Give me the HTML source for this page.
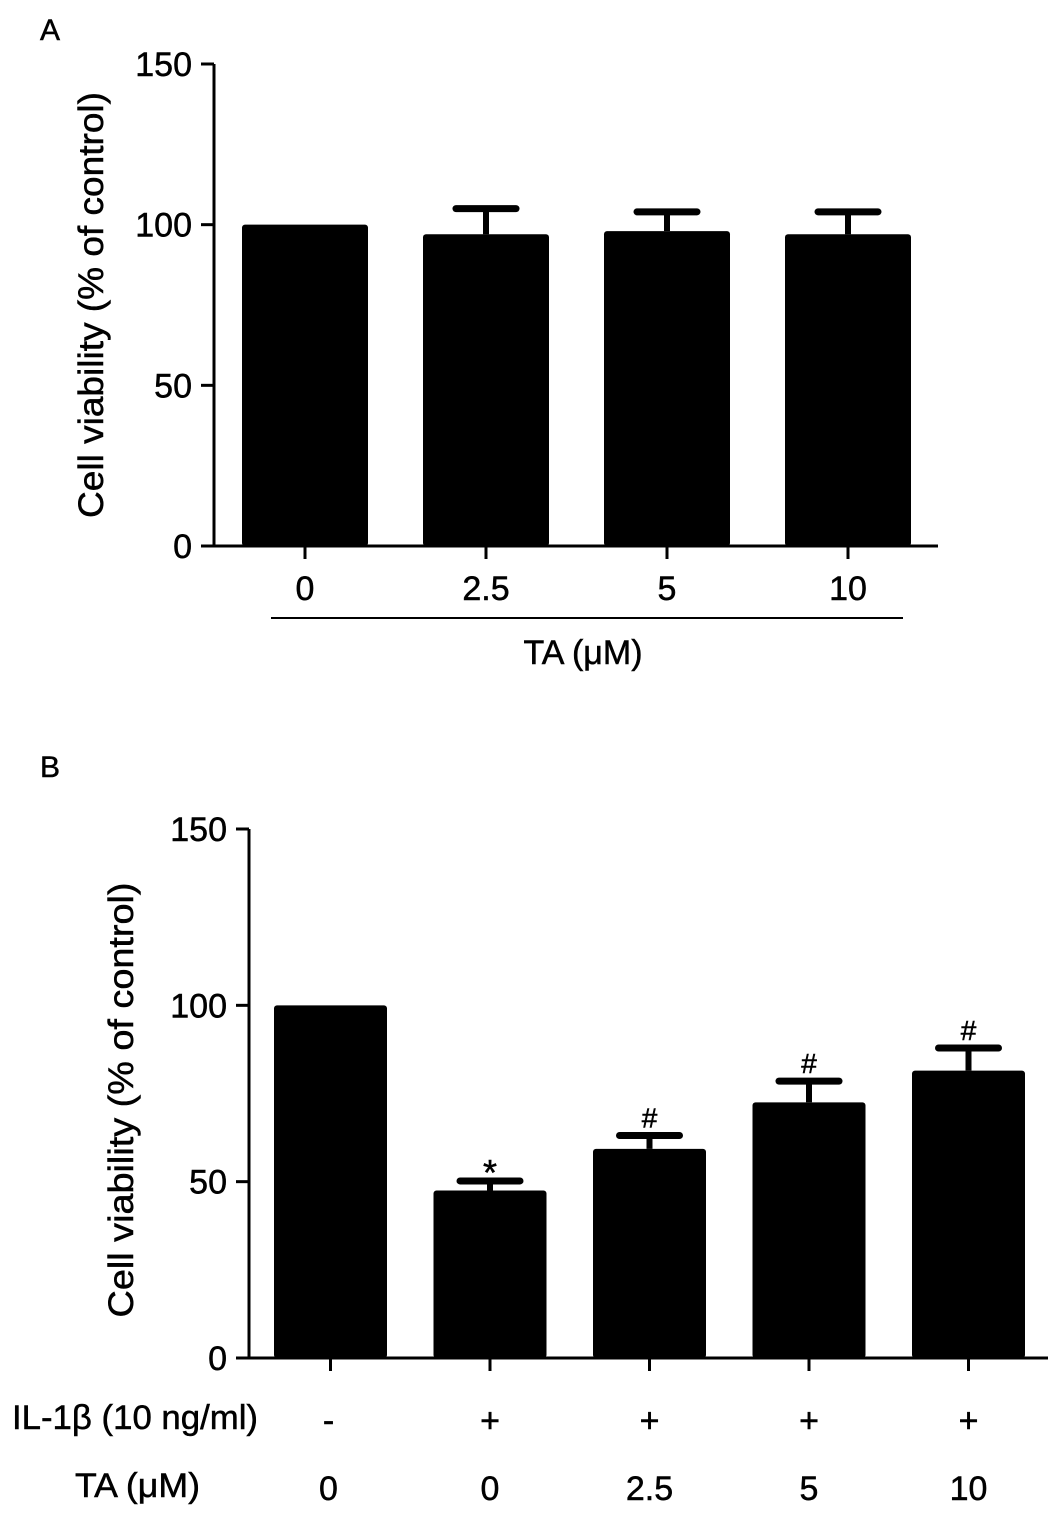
<!DOCTYPE html>
<html><head><meta charset="utf-8"><style>
body{margin:0;background:#fff}
svg text{font-family:"Liberation Sans",Arial,sans-serif;fill:#000;stroke:#000;stroke-width:0.5}
</style></head><body>
<svg id="fig" width="1063" height="1518" viewBox="0 0 1063 1518" xmlns="http://www.w3.org/2000/svg">
<text x="40" y="40" font-size="30">A</text>
<text x="40" y="777" font-size="30">B</text>
</svg>
<script>
const aCats=["0","2.5","5","10"];
const aVals=[100,97,98,97];
const aErr=[0,8,6,7];
const aTicks=[0,50,100,150];
const bIL=["-","+","+","+","+"];
const bTA=["0","0","2.5","5","10"];
const bVals=[100,47.5,59.3,72.5,81.5];
const bErr=[0,2.7,3.8,6,6.4];
const bMarks=["","*","#","#","#"];
const bTicks=[0,50,100,150];
const NS="http://www.w3.org/2000/svg";
const svg=document.getElementById('fig');
const FS=34;
function mk(t,a,txt){const e=document.createElementNS(NS,t);for(const k in a)e.setAttribute(k,a[k]);if(txt!==undefined)e.textContent=txt;svg.appendChild(e);return e;}
function panel(p){
 const y=v=>p.y0-(v/150)*(p.y0-p.y150);
 let e=mk('line',{x1:p.ax,y1:p.y150,x2:p.ax,y2:p.y0,stroke:'#000','stroke-width':3});
 
 e=mk('line',{x1:p.ax,y1:p.y0,x2:p.xend,y2:p.y0,stroke:'#000','stroke-width':3});
 
 p.ticks.forEach(t=>{
  e=mk('line',{x1:p.ax-13,y1:y(t),x2:p.ax,y2:y(t),stroke:'#000','stroke-width':3});
  
  e=mk('text',{x:p.ax-22,y:y(t)+12,'font-size':FS,'text-anchor':'end'},String(t));
  
 });
 e=mk('text',{x:0,y:0,'font-size':35,'text-anchor':'middle',textLength:p.yll,lengthAdjust:'spacingAndGlyphs',transform:`translate(${p.ylx},${p.ylc}) rotate(-90)`},'Cell viability (% of control)');
 
 p.vals.forEach((v,i)=>{
  const x=p.x0+i*p.step, cx=x+p.bw/2;
  if(p.err[i]>0){
   const ty=y(v+p.err[i]);
   e=mk('line',{x1:cx,y1:ty,x2:cx,y2:y(v),stroke:'#000','stroke-width':6});
   
   e=mk('line',{x1:cx-30,y1:ty,x2:cx+30,y2:ty,stroke:'#000','stroke-width':7,'stroke-linecap':'round'});
   
  }
  e=mk('rect',{x:x,y:y(v),width:p.bw,height:p.y0-y(v),fill:'#000',rx:3});
  
  e=mk('line',{x1:cx,y1:p.y0,x2:cx,y2:p.y0+13,stroke:'#000','stroke-width':3});
  
  if(p.marks&&p.marks[i]){
   e=mk('text',{x:cx,y:y(v+p.err[i])-(p.marks[i]=='*'?-4:8),'font-size':p.marks[i]=='*'?36:28,'text-anchor':'middle'},p.marks[i]);
   
  }
 });
 return {y};
}
const A={id:'a',ax:214,y0:546,y150:64,xend:938,x0:242,step:181,bw:126,vals:aVals,err:aErr,ticks:aTicks,ylx:103,ylc:305,yll:426};
panel(A);
aCats.forEach((c,i)=>{
 const e=mk('text',{x:A.x0+i*A.step+A.bw/2,y:600,'font-size':FS,'text-anchor':'middle'},c);
 
});
let e=mk('line',{x1:271,y1:618,x2:903,y2:618,stroke:'#000','stroke-width':2});

e=mk('text',{x:583,y:664,'font-size':FS,'text-anchor':'middle'},'TA (μM)');

const B={id:'b',ax:249,y0:1358,y150:829,xend:1048,x0:274,step:159.5,bw:113,vals:bVals,err:bErr,ticks:bTicks,ylx:133,ylc:1100,yll:435,marks:bMarks};
panel(B);
e=mk('text',{x:12,y:1429,'font-size':FS,textLength:246,lengthAdjust:'spacingAndGlyphs'},'IL-1β (10 ng/ml)');

e=mk('text',{x:75,y:1497,'font-size':FS,textLength:125,lengthAdjust:'spacingAndGlyphs'},'TA (μM)');

bIL.forEach((c,i)=>{
 const cx=B.x0+i*B.step+B.bw/2+(i==0?-2:0);
 let t=mk('text',{x:cx,y:1432,'font-size':FS,'text-anchor':'middle'},c);
 
 t=mk('text',{x:cx,y:1500,'font-size':FS,'text-anchor':'middle'},bTA[i]);
 
});
</script>
</body></html>
